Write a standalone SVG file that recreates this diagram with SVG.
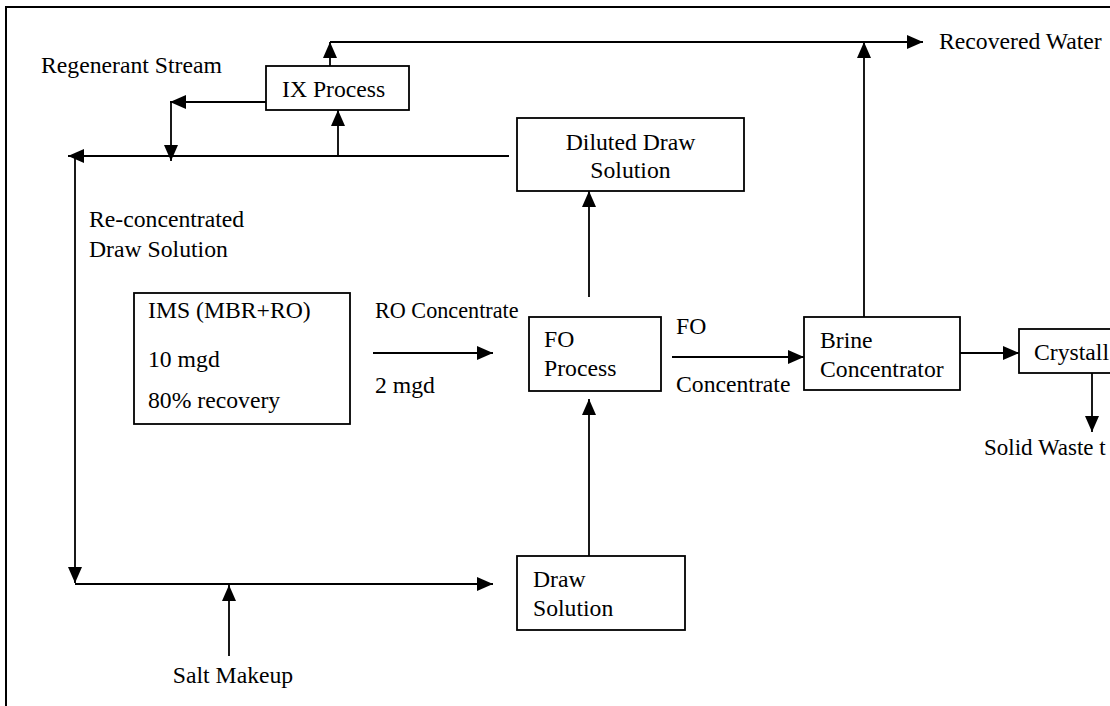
<svg xmlns="http://www.w3.org/2000/svg" width="1110" height="706" viewBox="0 0 1110 706">
<style>
.t{font-family:"Liberation Serif","Times New Roman",serif;font-size:23.7px;fill:#000}
.s{font-size:22.2px}
.box{fill:#fff;stroke:#000;stroke-width:1.8}
.c{fill:none;stroke:#000;stroke-width:1.8}
</style>
<defs>
<marker id="ah" markerWidth="16" markerHeight="14" refX="16" refY="7" orient="auto" markerUnits="userSpaceOnUse"><path d="M0,0 L16,7 L0,14 z" fill="#000"/></marker>
</defs>
<rect width="1110" height="706" fill="#fff"/>
<rect id="frame" x="6" y="7" width="1200" height="800" fill="none" stroke="#000" stroke-width="2"/>
<g id="connectors">
<path class="c" d="M330,66 L330,42" marker-end="url(#ah)"/>
<path class="c" d="M330,42 L923,42" marker-end="url(#ah)"/>
<path class="c" d="M864,317 L864,42" marker-end="url(#ah)"/>
<path class="c" d="M266,102 L170,102" marker-end="url(#ah)"/>
<path class="c" d="M171,102 L171,161" marker-end="url(#ah)"/>
<path class="c" d="M509,156 L68,156" marker-end="url(#ah)"/>
<path class="c" d="M338,156 L338,110" marker-end="url(#ah)"/>
<path class="c" d="M75,158 L75,583" marker-end="url(#ah)"/>
<path class="c" d="M75,584 L493,584" marker-end="url(#ah)"/>
<path class="c" d="M229,656 L229,585" marker-end="url(#ah)"/>
<path class="c" d="M589,556 L589,399" marker-end="url(#ah)"/>
<path class="c" d="M589,297 L589,191" marker-end="url(#ah)"/>
<path class="c" d="M373,353 L493,353" marker-end="url(#ah)"/>
<path class="c" d="M672,357 L804,357" marker-end="url(#ah)"/>
<path class="c" d="M960,353 L1019,353" marker-end="url(#ah)"/>
<path class="c" d="M1092,373 L1092,432" marker-end="url(#ah)"/>
</g>
<g id="ix">
<rect class="box" x="266" y="66" width="143" height="44"/>
<text class="t" x="282" y="97">IX Process</text>
</g>
<g id="diluted">
<rect class="box" x="517" y="118" width="227" height="73"/>
<text class="t" x="630.5" y="150" text-anchor="middle">Diluted Draw</text>
<text class="t" x="630.5" y="178" text-anchor="middle">Solution</text>
</g>
<g id="ims">
<rect class="box" x="134" y="293" width="216" height="131"/>
<text class="t" x="148" y="318">IMS (MBR+RO)</text>
<text class="t" x="148" y="367">10 mgd</text>
<text class="t" x="148" y="408">80% recovery</text>
</g>
<g id="fo">
<rect class="box" x="529" y="317" width="132" height="74"/>
<text class="t" x="544" y="347">FO</text>
<text class="t" x="544" y="376">Process</text>
</g>
<g id="brine">
<rect class="box" x="804" y="317" width="156" height="73"/>
<text class="t" x="820" y="348">Brine</text>
<text class="t" x="820" y="377">Concentrator</text>
</g>
<g id="crystallizer">
<rect class="box" x="1019" y="329" width="200" height="44"/>
<text class="t" x="1034" y="360">Crystall</text>
</g>
<g id="draw">
<rect class="box" x="517" y="556" width="168" height="74"/>
<text class="t" x="533" y="587">Draw</text>
<text class="t" x="533" y="616">Solution</text>
</g>
<g id="labels">
<text class="t" x="41" y="73">Regenerant Stream</text>
<text class="t" x="939" y="49">Recovered Water</text>
<text class="t" x="89" y="227">Re-concentrated</text>
<text class="t" x="89" y="257">Draw Solution</text>
<text class="t s" x="375" y="318">RO Concentrate</text>
<text class="t" x="375" y="393">2 mgd</text>
<text class="t" x="676" y="334">FO</text>
<text class="t" x="676" y="392">Concentrate</text>
<text class="t" x="984" y="455" style="font-size:23px">Solid Waste t</text>
<text class="t" x="233" y="683" text-anchor="middle">Salt Makeup</text>
</g>
</svg>
